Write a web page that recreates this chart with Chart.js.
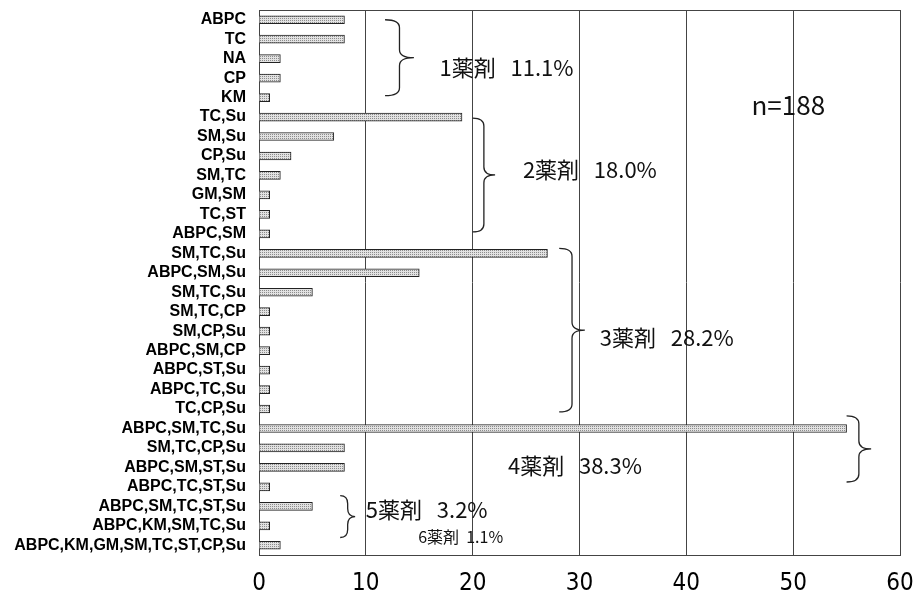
<!DOCTYPE html>
<html lang="ja">
<head>
<meta charset="UTF-8">
<title>薬剤耐性パターン</title>
<style>
  html, body { margin: 0; padding: 0; background: #fff; }
  #wrap { width: 917px; height: 605px; }
</style>
<script src="https://cdn.jsdelivr.net/npm/chart.js@4.4.1/dist/chart.umd.min.js"></script>
</head>
<body>
<div id="wrap"><canvas id="myChart" width="917" height="605"></canvas></div>
<script>
// 耐性パターン (n=188)
const labels = [
  'ABPC', 'TC', 'NA', 'CP', 'KM',
  'TC,Su', 'SM,Su', 'CP,Su', 'SM,TC', 'GM,SM', 'TC,ST', 'ABPC,SM',
  'SM,TC,Su', 'ABPC,SM,Su', 'SM,TC,Su', 'SM,TC,CP', 'SM,CP,Su', 'ABPC,SM,CP', 'ABPC,ST,Su', 'ABPC,TC,Su', 'TC,CP,Su',
  'ABPC,SM,TC,Su', 'SM,TC,CP,Su', 'ABPC,SM,ST,Su', 'ABPC,TC,ST,Su',
  'ABPC,SM,TC,ST,Su', 'ABPC,KM,SM,TC,Su',
  'ABPC,KM,GM,SM,TC,ST,CP,Su'
];
const counts = [
  8, 8, 2, 2, 1,
  19, 7, 3, 2, 1, 1, 1,
  27, 15, 5, 1, 1, 1, 1, 1, 1,
  55, 8, 8, 1,
  5, 1,
  2
];
const xMin = 0, xMax = 60, xStep = 10;

// 括弧: x(左端, 先端) と y(カテゴリ番号の上下)
const braceX = [[11.8, 14.5], [20.0, 22.1], [28.1, 30.5], [55.0, 57.3], [7.6, 9.0]];
const braceY = [[0.0, 3.9], [5.05, 10.9], [11.75, 20.15], [20.35, 23.75], [24.45, 26.6]];

// 注記テキスト
const noteText = ['1薬剤   11.1%', '2薬剤   18.0%', '3薬剤   28.2%', '4薬剤   38.3%', '5薬剤   3.2%', '6薬剤  1.1%', 'n=188'];
const noteX = [16.9, 24.7, 31.9, 23.3, 10.0, 14.9, 46.1];
const noteY = [2.48, 7.72, 16.35, 22.93, 25.19, 26.58, 4.38];
const noteSize = [22, 22, 22, 22, 22, 16, 26];

// 網掛け風のパターン
function makePattern() {
  const c = document.createElement('canvas');
  c.width = 2; c.height = 2;
  const g = c.getContext('2d');
  g.fillStyle = '#e2e2e2';
  g.fillRect(0, 0, 2, 2);
  g.fillStyle = '#8c8c8c';
  g.fillRect(0, 0, 1, 1);
  return document.getElementById('myChart').getContext('2d').createPattern(c, 'repeat');
}

const notesPlugin = {
  id: 'notes',
  afterDraw(chart) {
    const ctx = chart.ctx;
    const xs = chart.scales.x, ys = chart.scales.y, area = chart.chartArea;
    ctx.save();
    // 上辺
    ctx.strokeStyle = '#444';
    ctx.lineWidth = 1;
    ctx.beginPath();
    ctx.moveTo(area.left, area.top + 0.5);
    ctx.lineTo(area.right, area.top + 0.5);
    ctx.stroke();

    // 括弧
    ctx.strokeStyle = '#222';
    ctx.lineWidth = 1.3;
    for (let i = 0; i < braceX.length; i++) {
      const xl = xs.getPixelForValue(braceX[i][0]);
      const xt = xs.getPixelForValue(braceX[i][1]);
      const yt = ys.getPixelForValue(braceY[i][0]);
      const yb = ys.getPixelForValue(braceY[i][1]);
      const xm = (xl + xt) / 2;
      const ym = (yt + yb) / 2;
      const r = Math.min(8, (yb - yt) / 4);
      ctx.beginPath();
      ctx.moveTo(xl, yt);
      ctx.quadraticCurveTo(xm, yt, xm, yt + r);
      ctx.lineTo(xm, ym - r);
      ctx.quadraticCurveTo(xm, ym, xt, ym);
      ctx.quadraticCurveTo(xm, ym, xm, ym + r);
      ctx.lineTo(xm, yb - r);
      ctx.quadraticCurveTo(xm, yb, xl, yb);
      ctx.stroke();
    }

    // テキスト
    ctx.fillStyle = '#111';
    ctx.textAlign = 'left';
    ctx.textBaseline = 'middle';
    for (let i = 0; i < noteText.length; i++) {
      ctx.font = noteSize[i] + 'px "Noto Sans CJK JP", "Liberation Sans", sans-serif';
      ctx.fillText(noteText[i], xs.getPixelForValue(noteX[i]), ys.getPixelForValue(noteY[i]));
    }
    ctx.restore();
  }
};

const ctx = document.getElementById('myChart').getContext('2d');
const myChart = new Chart(ctx, {
  type: 'bar',
  data: {
    labels: labels,
    datasets: [{
      data: counts,
      backgroundColor: makePattern(),
      borderColor: '#222',
      borderWidth: 1,
      barThickness: 8
    }]
  },
  options: {
    indexAxis: 'y',
    responsive: false,
    animation: false,
    layout: { padding: { top: 10, right: 17, left: 0, bottom: 0 } },
    plugins: {
      legend: { display: false },
      tooltip: { enabled: false }
    },
    scales: {
      x: {
        min: xMin,
        max: xMax,
        ticks: {
          stepSize: xStep,
          color: '#000',
          padding: 14,
          font: { family: '"Liberation Sans Narrow", "DejaVu Sans Condensed", sans-serif', size: 24 }
        },
        grid: { color: '#444', lineWidth: 1, drawTicks: false },
        border: { color: '#444' },
        afterFit(axis) {
          axis.height = 50;
          axis.paddingLeft = 0;
          axis.paddingRight = 0;
        }
      },
      y: {
        ticks: {
          autoSkip: false,
          color: '#000',
          padding: 5,
          font: { family: '"Liberation Sans", Arial, sans-serif', size: 16, weight: 'bold' }
        },
        grid: { display: false },
        border: { color: '#444' },
        afterFit(axis) {
          axis.width = 259;
          axis.paddingTop = 0;
          axis.paddingBottom = 0;
        }
      }
    }
  },
  plugins: [notesPlugin]
});
</script>
</body>
</html>
